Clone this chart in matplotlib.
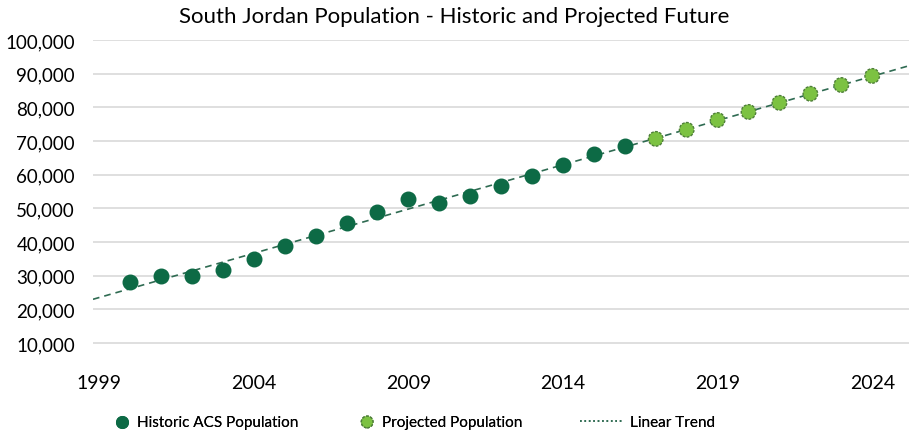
import numpy as np
import matplotlib.pyplot as plt
from matplotlib.lines import Line2D
from matplotlib.ticker import FuncFormatter

plt.rcParams['font.family'] = ['Lato', 'DejaVu Sans']

hist_years = [2000, 2001, 2002, 2003, 2004, 2005, 2006, 2007, 2008,
              2009, 2010, 2011, 2012, 2013, 2014, 2015, 2016]
hist_pop = [28100, 29900, 29900, 31700, 35000, 38800, 41800, 45600, 48900,
            52700, 51700, 53700, 56600, 59600, 62700, 66100, 68600]
proj_years = [2017, 2018, 2019, 2020, 2021, 2022, 2023, 2024]
proj_pop = [70600, 73300, 76200, 78600, 81300, 84000, 86600, 89300]
x_ticks = [1999, 2004, 2009, 2014, 2019, 2024]
y_ticks = [10000, 20000, 30000, 40000, 50000, 60000, 70000, 80000, 90000, 100000]

dark = '#0d6a45'
light = '#7cc242'
trend_col = '#2f6b52'

fig = plt.figure(figsize=(9.09, 4.35), dpi=100)
ax = fig.add_axes([0.1023, 0.132, 0.8977, 0.774])

xlim = (1998.8, 2025.19)
all_x = np.array(hist_years + proj_years)
all_y = np.array(hist_pop + proj_pop)
slope, icpt = np.polyfit(all_x, all_y, 1)
tx = np.array(xlim)
ax.plot(tx, slope * tx + icpt, ls=(0, (4, 3)), color=trend_col, lw=1.2,
        zorder=2)

h1 = ax.scatter(hist_years, hist_pop, s=110, color=dark, edgecolor=dark,
                zorder=3)
h2 = ax.scatter(proj_years, proj_pop, s=110, color=light, edgecolor='#4f7f3a',
                linewidth=1.0, linestyle=(0, (2, 1)), zorder=3)

ax.set_xlim(*xlim)
ax.set_ylim(0, 100000)
ax.set_xticks(x_ticks)
ax.set_yticks(y_ticks)
ax.yaxis.set_major_formatter(FuncFormatter(lambda v, p: f'{int(v):,}'))
ax.grid(axis='y', color='#d9d9d9', lw=1.2)
ax.set_axisbelow(True)
for s in ax.spines.values():
    s.set_visible(False)
ax.tick_params(length=0)
ax.tick_params(axis='y', pad=13, labelsize=13.5)
ax.tick_params(axis='x', pad=-2, labelsize=14)

fig.suptitle('South Jordan Population - Historic and Projected Future',
             y=0.985, fontsize=16)

# legend entries placed one by one, like the original
trend_proxy = Line2D([], [], color=trend_col, ls=':', lw=1.2)
entries = [
    (h1, 'Historic ACS Population', 0.126, 1.0),
    (h2, 'Projected Population', 0.3955, 1.0),
    (trend_proxy, 'Linear Trend', 0.638, 2.75),
]
for handle, text, x0, hl in entries:
    leg = fig.legend([handle], [text], loc='center left',
                     bbox_to_anchor=(x0, 0.0276), frameon=False, fontsize=11,
                     borderpad=0, borderaxespad=0, handlelength=hl,
                     handletextpad=0.5, markerscale=0.8)
    fig.add_artist(leg)

fig.savefig('out.png', dpi=100)
